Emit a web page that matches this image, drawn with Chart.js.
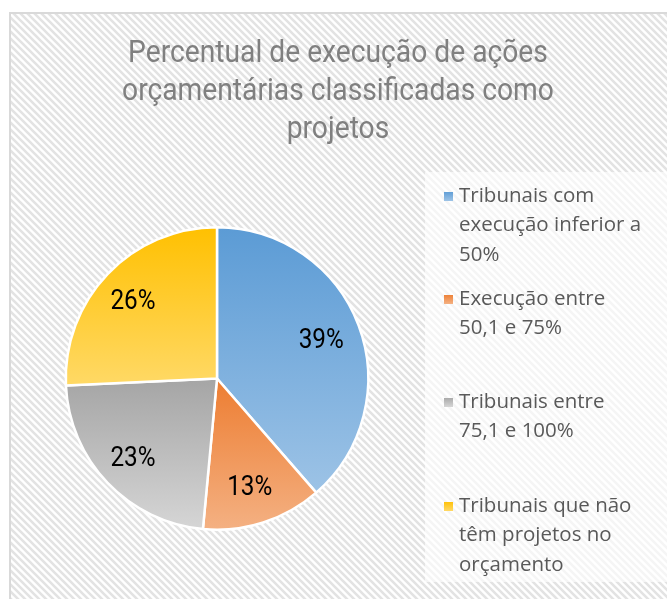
<!DOCTYPE html>
<html>
<head>
<meta charset="utf-8">
<script src="https://cdn.jsdelivr.net/npm/chart.js@4/dist/chart.umd.min.js"></script>
<style>
  html, body { margin: 0; padding: 0; background: #fff; }
  #wrap { width: 667px; height: 599px; position: relative; }
</style>
</head>
<body>
<div id="wrap"><canvas id="c" width="667" height="599"></canvas></div>
<script>
// data
const titleLines = ["Percentual de execução de ações", "orçamentárias classificadas como", "projetos"];
const categories = [
  ["Tribunais com", "execução inferior a", "50%"],
  ["Execução entre", "50,1 e 75%"],
  ["Tribunais entre", "75,1 e 100%"],
  ["Tribunais que não", "têm projetos no", "orçamento"]
];
const values = [39, 13, 23, 26];
const topColors = ["#5b9bd5", "#ed7d31", "#a5a5a5", "#ffc000"];
const bottomColors = ["#9dc3e6", "#f4b183", "#d6d6d6", "#ffd966"];

// vertical gradient across the bounding box of one slice
function sliceGradient(ctx) {
  const chart = ctx.chart;
  const area = chart.chartArea;
  const i = ctx.dataIndex;
  if (!area) return topColors[i];
  const cx = (area.left + area.right) / 2;
  const cy = (area.top + area.bottom) / 2;
  const r = Math.min(area.right - area.left, area.bottom - area.top) / 2;
  const total = values.reduce((a, b) => a + b, 0);
  let start = -Math.PI / 2;
  for (let k = 0; k < i; k++) start += values[k] / total * Math.PI * 2;
  const end = start + values[i] / total * Math.PI * 2;
  const ys = [cy, cy + r * Math.sin(start), cy + r * Math.sin(end)];
  for (let a = -Math.PI / 2; a < end + 0.0001; a += Math.PI) {
    if (a >= start && a <= end) ys.push(cy + r * Math.sin(a));
  }
  const y0 = Math.min(...ys), y1 = Math.max(...ys);
  const g = chart.ctx.createLinearGradient(0, y0, 0, y1);
  g.addColorStop(0, topColors[i]);
  g.addColorStop(1, bottomColors[i]);
  return g;
}

// condensed look: squeeze text horizontally
function squeezed(ctx, text, x, y, sx) {
  ctx.save();
  ctx.translate(x, y);
  ctx.scale(sx, 1);
  ctx.fillText(text, 0, 0);
  ctx.restore();
}

const background = {
  id: "background",
  beforeDraw(chart) {
    const ctx = chart.ctx;
    ctx.save();
    ctx.fillStyle = "#fff";
    ctx.fillRect(0, 0, chart.width, chart.height);
    // diagonal hatch
    const p = document.createElement("canvas");
    p.width = 7; p.height = 7;
    const pc = p.getContext("2d");
    pc.fillStyle = "#fff";
    pc.fillRect(0, 0, 7, 7);
    pc.strokeStyle = "#e3e3e3";
    pc.lineWidth = 2.6;
    pc.beginPath();
    pc.moveTo(-1, -1); pc.lineTo(8, 8);
    pc.moveTo(-8, -1); pc.lineTo(1, 8);
    pc.moveTo(6, -1); pc.lineTo(15, 8);
    pc.stroke();
    ctx.fillStyle = ctx.createPattern(p, "repeat");
    ctx.fillRect(10, 13, chart.width, chart.height);
    ctx.strokeStyle = "#d9d9d9";
    ctx.lineWidth = 2;
    ctx.strokeRect(10, 13, chart.width + 10, chart.height + 10);
    // legend box
    ctx.fillStyle = "rgba(255,255,255,0.65)";
    ctx.fillRect(425, 172, 242, 410);
    // title
    ctx.fillStyle = "#808080";
    ctx.font = "31px Roboto";
    ctx.textAlign = "center";
    ctx.textBaseline = "middle";
    titleLines.forEach((t, k) => squeezed(ctx, t, 338, 54 + k * 38, 0.91));
    // legend
    ctx.font = "20.5px 'Open Sans'";
    ctx.textAlign = "left";
    const starts = [196, 299, 402, 506];
    categories.forEach((lines, k) => {
      const g = ctx.createLinearGradient(0, starts[k] - 5, 0, starts[k] + 5);
      g.addColorStop(0, topColors[k]);
      g.addColorStop(1, bottomColors[k]);
      ctx.fillStyle = g;
      ctx.fillRect(444, starts[k] - 4, 9, 9);
      ctx.fillStyle = "#595959";
      lines.forEach((t, j) => ctx.fillText(t, 459, starts[k] + j * 29.5));
    });
    ctx.restore();
  }
};

const sliceLabels = {
  id: "sliceLabels",
  afterDatasetsDraw(chart) {
    const ctx = chart.ctx;
    const meta = chart.getDatasetMeta(0);
    ctx.save();
    ctx.fillStyle = "#000";
    ctx.font = "27px Roboto";
    ctx.textAlign = "center";
    ctx.textBaseline = "middle";
    meta.data.forEach((arc, k) => {
      const mid = (arc.startAngle + arc.endAngle) / 2;
      const r = arc.outerRadius * 0.75;
      squeezed(ctx, values[k] + "%", arc.x + Math.cos(mid) * r - 2, arc.y + Math.sin(mid) * r + 2, 0.9);
    });
    ctx.restore();
  }
};

new Chart(document.getElementById("c"), {
  type: "pie",
  data: {
    labels: categories.map(l => l.join(" ")),
    datasets: [{
      data: values,
      backgroundColor: sliceGradient,
      borderColor: "#fff",
      borderWidth: 2.5
    }]
  },
  options: {
    responsive: false,
    animation: false,
    layout: { padding: { left: 64, top: 226, right: 297, bottom: 68 } },
    plugins: {
      legend: { display: false },
      title: { display: false },
      tooltip: { enabled: false }
    }
  },
  plugins: [background, sliceLabels]
});
</script>
</body>
</html>
